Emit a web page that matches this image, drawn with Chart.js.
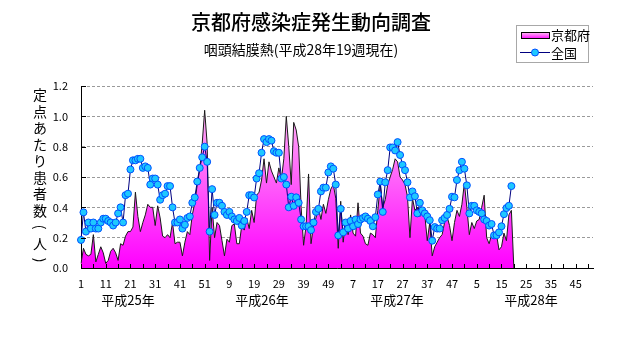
<!DOCTYPE html>
<html><head><meta charset="utf-8">
<script src="https://cdn.jsdelivr.net/npm/chart.js@4"></script>
<style>
html,body{margin:0;padding:0;background:#fff;}
canvas{display:block;}
</style></head><body>
<canvas id="c" width="631" height="347"></canvas>
<script>
const titleText = '京都府感染症発生動向調査';
const subtitleText = '咽頭結膜熱(平成28年19週現在)';
const yAxisTitle = '定点あたり患者数(人)';
const seriesNames = ['京都府', '全国'];
const yearNames = ['平成25年', '平成26年', '平成27年', '平成28年'];
const weeksPerYear = [52, 52, 52, 52];
const yTickValues = [0, 0.2, 0.4, 0.6, 0.8, 1.0, 1.2];

// 京都府 (H25 week1 .. H28 week19, then area closes)
const kyoto = [
 0.03,0.13,0.09,0.08,0.09,0.22,0.04,0.09,0.14,0.10,
 0.03,0.05,0.11,0.13,0.10,0.05,0.16,0.15,0.21,0.24,
 0.24,0.27,0.50,0.34,0.24,0.30,0.35,0.42,0.40,0.40,
 0.28,0.41,0.33,0.21,0.20,0.22,0.20,0.30,0.16,0.17,
 0.17,0.08,0.17,0.24,0.22,0.35,0.43,0.55,0.65,0.82,
 1.04,0.82,0.05,0.40,0.20,0.30,0.28,0.18,0.08,0.19,
 0.17,0.28,0.29,0.16,0.16,0.28,0.25,0.33,0.26,0.38,
 0.30,0.48,0.50,0.58,0.72,0.56,0.70,0.64,0.60,0.56,
 0.66,0.58,0.72,1.00,0.80,0.55,0.96,0.91,0.80,0.40,
 0.15,0.28,0.62,0.16,0.28,0.33,0.40,0.32,0.42,0.36,
 0.45,0.52,0.55,0.46,0.13,0.44,0.17,0.31,0.22,0.35,
 0.23,0.21,0.43,0.23,0.21,0.16,0.15,0.23,0.22,0.20,
 0.38,0.55,0.40,0.45,0.55,0.60,0.65,0.72,0.70,0.60,
 0.58,0.55,0.47,0.20,0.46,0.38,0.40,0.34,0.40,0.35,
 0.18,0.30,0.08,0.14,0.17,0.20,0.22,0.30,0.34,0.28,
 0.18,0.30,0.38,0.34,0.42,0.56,0.40,0.22,0.30,0.26,
 0.31,0.32,0.40,0.48,0.20,0.16,0.22,0.20,0.22,0.12,
 0.14,0.23,0.18,0.35,0.38,0
];

// 全国
const national = [
 0.185,0.367,0.24,0.30,0.26,0.30,0.26,0.26,0.30,0.325,
 0.325,0.31,0.30,0.28,0.30,0.36,0.40,0.30,0.48,0.49,
 0.65,0.71,0.71,0.72,0.72,0.66,0.67,0.66,0.55,0.59,
 0.59,0.55,0.45,0.48,0.49,0.54,0.54,0.40,0.30,0.30,
 0.32,0.26,0.285,0.33,0.34,0.43,0.465,0.57,0.66,0.73,
 0.80,0.70,0.24,0.52,0.35,0.43,0.43,0.41,0.37,0.35,
 0.37,0.34,0.32,0.31,0.33,0.28,0.31,0.37,0.48,0.48,
 0.465,0.59,0.625,0.76,0.85,0.83,0.85,0.84,0.77,0.76,
 0.76,0.59,0.60,0.55,0.40,0.47,0.41,0.466,0.43,0.32,
 0.275,0.275,0.275,0.25,0.30,0.37,0.39,0.505,0.53,0.53,
 0.63,0.67,0.655,0.55,0.215,0.39,0.235,0.30,0.26,0.31,
 0.275,0.32,0.29,0.32,0.33,0.34,0.325,0.31,0.275,0.335,
 0.485,0.57,0.37,0.565,0.645,0.795,0.795,0.775,0.83,0.745,
 0.68,0.645,0.565,0.466,0.505,0.473,0.36,0.43,0.38,0.36,
 0.34,0.315,0.18,0.27,0.26,0.26,0.315,0.33,0.35,0.39,
 0.47,0.466,0.58,0.645,0.70,0.655,0.545,0.36,0.41,0.41,
 0.38,0.37,0.36,0.32,0.31,0.28,0.29,0.215,0.216,0.235,
 0.275,0.355,0.395,0.41,0.54
];

const weekLabels = [];
weeksPerYear.forEach(n => { for (let w = 1; w <= n; w++) weekLabels.push(String(w)); });

const FONT = "'Noto Sans CJK JP', 'Noto Sans', sans-serif";

function pinkGradient(ctx, top, bottom) {
  const g = ctx.createLinearGradient(0, top, 0, bottom);
  g.addColorStop(0, '#ffc8f4');
  g.addColorStop(1, '#ff00ff');
  return g;
}

const decor = {
  id: 'decor',
  afterDraw(chart) {
    const ctx = chart.ctx;
    const xs = chart.scales.x, ys = chart.scales.y;
    const a = chart.chartArea;
    ctx.save();
    // inner tick marks
    ctx.strokeStyle = '#000';
    ctx.lineWidth = 1;
    ctx.beginPath();
    for (let i = 0; i < weekLabels.length; i += 5) {
      const x = Math.round(xs.getPixelForValue(i)) + 0.5;
      ctx.moveTo(x, a.bottom); ctx.lineTo(x, a.bottom - 4);
    }
    yTickValues.forEach(v => {
      const y = Math.round(ys.getPixelForValue(v)) + 0.5;
      ctx.moveTo(a.left, y); ctx.lineTo(a.left + 5, y);
    });
    ctx.stroke();

    ctx.fillStyle = '#000';
    // title
    ctx.textAlign = 'center';
    ctx.textBaseline = 'middle';
    ctx.font = '500 20px ' + FONT;
    ctx.fillText(titleText, 311, 22);
    ctx.font = '14px ' + FONT;
    ctx.fillText(subtitleText, 301, 50);

    // year labels
    ctx.font = '13px ' + FONT;
    const yearX = [128, 262, 397, 531];
    yearNames.forEach((t, k) => ctx.fillText(t, yearX[k], 300));

    // y axis title (vertical, stacked)
    ctx.font = '14px ' + FONT;
    const chars = Array.from(yAxisTitle);
    chars.forEach((ch, k) => {
      const y = 95 + k * 16.5;
      if (ch === '(' || ch === ')') {
        ctx.save();
        ctx.translate(40, y);
        ctx.rotate(Math.PI / 2);
        ctx.fillText(ch, 0, 0);
        ctx.restore();
      } else {
        ctx.fillText(ch, 40, y);
      }
    });

    // legend
    const lx = 516, ly = 25, lw = 72, lh = 37;
    ctx.strokeStyle = '#a8a8a8';
    ctx.strokeRect(lx + 0.5, ly + 0.5, lw, lh);
    ctx.fillStyle = pinkGradient(ctx, 32, 39);
    ctx.fillRect(521, 32, 28, 6);
    ctx.strokeStyle = '#000';
    ctx.strokeRect(521.5, 32.5, 28, 6);
    ctx.strokeStyle = '#000080';
    ctx.beginPath(); ctx.moveTo(520, 52.5); ctx.lineTo(550, 52.5); ctx.stroke();
    ctx.beginPath(); ctx.arc(535, 52.5, 3.5, 0, Math.PI * 2);
    ctx.fillStyle = '#1ec8ff'; ctx.fill();
    ctx.strokeStyle = '#0050ff'; ctx.stroke();
    ctx.fillStyle = '#000';
    ctx.textAlign = 'left';
    ctx.font = '13px ' + FONT;
    ctx.fillText(seriesNames[0], 551, 35);
    ctx.fillText(seriesNames[1], 551, 53);
    ctx.restore();
  }
};

new Chart(document.getElementById('c'), {
  type: 'line',
  data: {
    labels: weekLabels,
    datasets: [
      {
        label: seriesNames[1],
        data: national,
        order: 1,
        borderColor: '#000080',
        borderWidth: 1,
        pointRadius: 3.5,
        pointBackgroundColor: '#1ec8ff',
        pointBorderColor: '#0050ff',
        pointBorderWidth: 1,
        tension: 0,
        fill: false
      },
      {
        label: seriesNames[0],
        data: kyoto,
        order: 2,
        borderColor: '#1a1a1a',
        borderWidth: 1,
        pointRadius: 0,
        tension: 0,
        fill: 'origin',
        backgroundColor: (c) => {
          const ca = c.chart.chartArea;
          if (!ca) return '#ff66ee';
          return pinkGradient(c.chart.ctx, ca.top, ca.bottom);
        }
      }
    ]
  },
  options: {
    responsive: false,
    animation: false,
    devicePixelRatio: 1,
    layout: { padding: { left: 0, right: 38, top: 86, bottom: 0 } },
    plugins: { legend: { display: false }, tooltip: { enabled: false }, title: { display: false } },
    scales: {
      x: {
        type: 'category',
        offset: false,
        afterFit: (s) => { s.height = 79; },
        grid: { display: false, drawTicks: false },
        border: { display: true, color: '#000', width: 1 },
        ticks: {
          autoSkip: false,
          maxRotation: 0,
          padding: 9,
          color: '#000',
          font: { family: FONT, size: 11 },
          callback: (v, i) => (i % 10 === 0 ? weekLabels[i] : '')
        }
      },
      y: {
        min: 0, max: 1.2,
        afterFit: (s) => { s.width = 81; },
        afterBuildTicks: (s) => { s.ticks = yTickValues.map(v => ({ value: v })); },
        grid: { color: '#9a9a9a', drawTicks: false },
        border: { display: true, color: '#000', width: 1, dash: [3, 2] },
        ticks: {
          padding: 13,
          color: '#000',
          font: { family: FONT, size: 11 },
          callback: (v) => Number(v).toFixed(1)
        }
      }
    }
  },
  plugins: [decor]
});
</script>
</body></html>
